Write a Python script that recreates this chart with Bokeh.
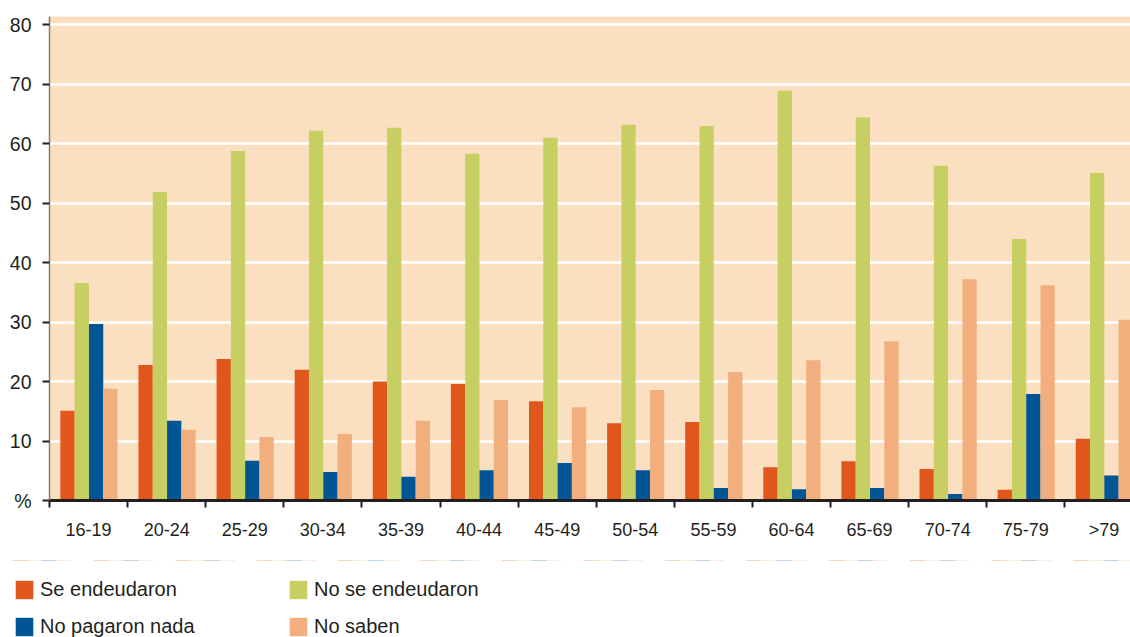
from bokeh.plotting import figure
from bokeh.layouts import column
from bokeh.models import (Range1d, FixedTicker, Legend, LegendItem,
                          ColumnDataSource)
from bokeh.embed import file_html
from bokeh.resources import INLINE

categories = ["16-19", "20-24", "25-29", "30-34", "35-39", "40-44", "45-49",
              "50-54", "55-59", "60-64", "65-69", "70-74", "75-79", ">79"]
se_endeudaron = [15.1, 22.8, 23.8, 22.0, 20.0, 19.6, 16.7, 13.0, 13.2, 5.6, 6.6, 5.3, 1.8, 10.4]
no_se_endeudaron = [36.6, 51.9, 58.8, 62.2, 62.7, 58.3, 61.0, 63.2, 63.0, 68.9, 64.4, 56.3, 44.0, 55.1]
no_pagaron_nada = [29.7, 13.4, 6.7, 4.8, 4.0, 5.1, 6.3, 5.1, 2.1, 1.9, 2.1, 1.1, 17.9, 4.2]
no_saben = [18.8, 11.9, 10.7, 11.2, 13.4, 16.9, 15.7, 18.6, 21.6, 23.6, 26.8, 37.2, 36.2, 30.4]
series_names = ["Se endeudaron", "No se endeudaron", "No pagaron nada", "No saben"]
series_colors = ["#E1561A", "#C8CF62", "#005694", "#F2AF7D"]
y_ticks = [0, 10, 20, 30, 40, 50, 60, 70, 80]

FONT = "Liberation Sans"
TXT = "#231F20"

p = figure(width=1130, height=560, output_backend="svg", toolbar_location=None,
           x_range=Range1d(0, 13.84), y_range=Range1d(0, 81.4),
           min_border_left=49, min_border_right=0, min_border_top=16,
           min_border_bottom=60)
p.frame_align = False
p.background_fill_color = "#FBDFC1"
p.border_fill_color = "white"
p.outline_line_color = None

n = len(categories)
w = 0.183
center = 0.505
offsets = [-1.5 * w, -0.5 * w, 0.5 * w, 1.5 * w]
all_series = [se_endeudaron, no_se_endeudaron, no_pagaron_nada, no_saben]

bar_sources = []
for vals, off, col in zip(all_series, offsets, series_colors):
    src = ColumnDataSource(dict(x=[i + center + off for i in range(n)], top=vals))
    bar_sources.append(src)
    p.vbar(x="x", top="top", width=w, bottom=0, source=src,
           fill_color=col, line_color=None)

# grid
p.xgrid.visible = False
p.ygrid.ticker = FixedTicker(ticks=y_ticks[1:])
p.ygrid.grid_line_color = "white"
p.ygrid.grid_line_width = 2.5

# y axis
p.yaxis.ticker = FixedTicker(ticks=y_ticks)
p.yaxis.major_label_overrides = {0: "%"}
p.yaxis.axis_line_color = "#8C7B6B"
p.yaxis.axis_line_width = 1.5
p.yaxis.major_tick_line_color = TXT
p.yaxis.major_tick_line_width = 2
p.yaxis.major_tick_out = 7
p.yaxis.major_tick_in = 0
p.yaxis.minor_tick_line_color = None
p.yaxis.major_label_text_font = FONT
p.yaxis.major_label_text_font_size = "19.5px"
p.yaxis.major_label_text_color = TXT
p.yaxis.major_label_standoff = 11

# x axis
p.xaxis.ticker = FixedTicker(ticks=[i + 0.5 for i in range(n)],
                             minor_ticks=list(range(n)))
p.xaxis.major_label_overrides = {i + 0.5: c for i, c in enumerate(categories)}
p.xaxis.axis_line_color = TXT
p.xaxis.axis_line_width = 3
p.xaxis.major_tick_line_color = None
p.xaxis.major_tick_out = 0
p.xaxis.major_tick_in = 0
p.xaxis.minor_tick_line_color = TXT
p.xaxis.minor_tick_line_width = 2
p.xaxis.minor_tick_out = 7
p.xaxis.minor_tick_in = 0
p.xaxis.major_label_text_font = FONT
p.xaxis.major_label_text_font_size = "18px"
p.xaxis.major_label_text_color = TXT
p.xaxis.major_label_standoff = 12

# legend strip: a second figure with no axes, whose frame fills it,
# holding legend-only renderers (same data, lying far above its visible y range)
lg = figure(width=1130, height=77, output_backend="svg", toolbar_location=None,
            x_range=Range1d(0, 13.84), y_range=Range1d(-10, -9),
            x_axis_location=None, y_axis_location=None,
            min_border_left=0, min_border_right=0, min_border_top=0,
            min_border_bottom=0)
lg.frame_align = False
lg.grid.visible = False
lg.outline_line_color = None
lg.background_fill_color = "white"
lg.border_fill_color = "white"

legend_renderers = {}
for nm, src, col in zip(series_names, bar_sources, series_colors):
    legend_renderers[nm] = lg.vbar(x="x", top="top", width=w, bottom=0, source=src,
                                   fill_color=col, line_color=None)

# column-first filling: row 1 = first & second series, row 2 = third & fourth
order = [series_names[0], series_names[2], series_names[1], series_names[3]]
items = [LegendItem(label=nm, renderers=[legend_renderers[nm]]) for nm in order]
legend = Legend(items=items, ncols=2, location=(13, -1),
                glyph_width=22, glyph_height=23, label_height=23,
                label_standoff=5, spacing=14, label_width=233,
                padding=0, margin=0, border_line_color=None,
                background_fill_alpha=0,
                label_text_font=FONT, label_text_font_size="20px",
                label_text_color=TXT)
lg.add_layout(legend, "center")

layout = column(p, lg, spacing=0)
open("out.html", "w").write(file_html(layout, INLINE))
